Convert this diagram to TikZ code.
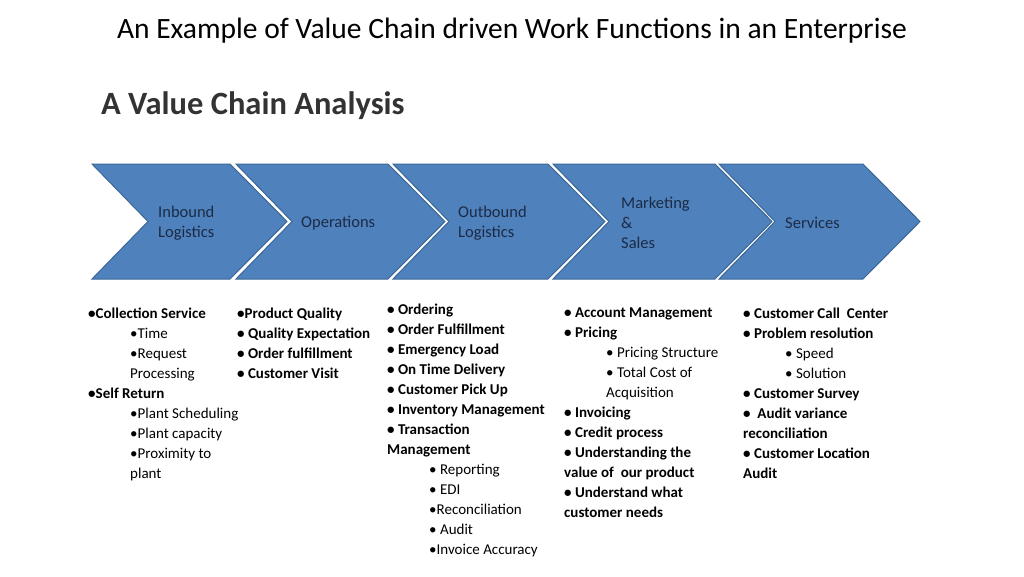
\documentclass[tikz,border=0pt]{standalone}
\usepackage{fontspec}
\setmainfont{Carlito}
\definecolor{chevfill}{HTML}{4F81BD}
\definecolor{chevline}{HTML}{3A6796}
\definecolor{chevtext}{HTML}{1C2B45}
\tikzset{
  chevlabel/.style={anchor=west,align=left,text=chevtext,font=\fontsize{16.5}{20}\selectfont,inner sep=0pt},
  itemlist/.style={anchor=north west,align=left,inner sep=0pt,font=\fontsize{15}{20}\selectfont\bfseries}
}
\newcommand{\sub}[1]{\hspace*{42pt}\mdseries #1}
\begin{document}
\begin{tikzpicture}[x=1pt,y=-1pt]
\useasboundingbox (0,0) rectangle (1024,576);
\node (title) at (512,31) {\fontsize{29.5}{34}\selectfont An Example of Value Chain driven Work Functions in an Enterprise};
\node[anchor=west,inner sep=0pt,text=black!80] (heading) at (101,106) {\fontsize{32.5}{36}\selectfont\bfseries A Value Chain Analysis};
% chevrons
\foreach \l/\r [count=\i] in {92/230,236/388,393/548,553/715,719/863}{
  \draw[fill=chevfill,draw=chevline,line width=1pt] (\l,164) -- (\r,164) -- (\r+57,221.5) -- (\r,279) -- (\l,279) -- (\l+56,221.5) -- cycle;
}
\node[chevlabel] (inbound) at (158,223) {Inbound\\Logistics};
\node[chevlabel] (operations) at (301,223) {Operations};
\node[chevlabel] (outbound) at (458,223) {Outbound\\Logistics};
\node[chevlabel] (marketing) at (621,223) {Marketing\\\&\\Sales};
\node[chevlabel] (services) at (785,223) {Services};
% activity lists
\node[itemlist] (inlist) at (88,308) {
  •Collection Service\\
  \sub{•Time}\\
  \sub{•Request}\\
  \sub{Processing}\\
  •Self Return\\
  \sub{•Plant Scheduling}\\
  \sub{•Plant capacity}\\
  \sub{•Proximity to}\\
  \sub{plant}};
\node[itemlist] (oplist) at (237,308) {
  •Product Quality\\
  • Quality Expectation\\
  • Order fulfillment\\
  • Customer Visit};
\node[itemlist] (outlist) at (387,304) {
  • Ordering\\
  • Order Fulfillment\\
  • Emergency Load\\
  • On Time Delivery\\
  • Customer Pick Up\\
  • Inventory Management\\
  • Transaction\\
  Management\\
  \sub{• Reporting}\\
  \sub{• EDI}\\
  \sub{•Reconciliation}\\
  \sub{• Audit}\\
  \sub{•Invoice Accuracy}};
\node[itemlist] (mktlist) at (564,308) {
  • Account Management\\
  • Pricing\\
  \sub{• Pricing Structure}\\
  \sub{• Total Cost of}\\
  \sub{Acquisition}\\
  • Invoicing\\
  • Credit process\\
  • Understanding the\\
  value of~ our product\\
  • Understand what\\
  customer needs};
\node[itemlist] (servlist) at (743,308) {
  • Customer Call~ Center\\
  • Problem resolution\\
  \sub{• Speed}\\
  \sub{• Solution}\\
  • Customer Survey\\
  •~ Audit variance\\
  reconciliation\\
  • Customer Location\\
  Audit};
\end{tikzpicture}
\end{document}
